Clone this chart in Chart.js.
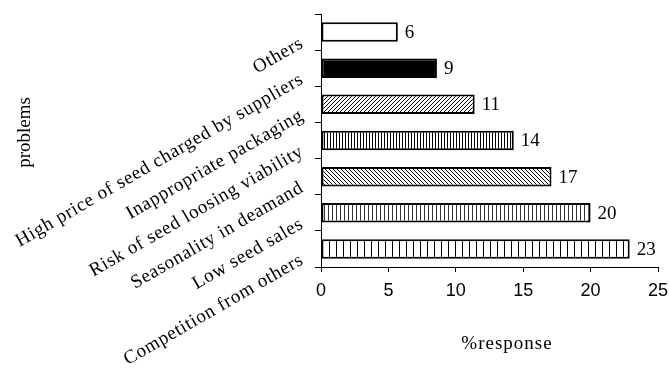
<!DOCTYPE html>
<html>
<head>
<meta charset="utf-8">
<script src="https://cdn.jsdelivr.net/npm/chart.js@4.4.1/dist/chart.umd.min.js"></script>
<style>
    html, body { margin: 0; padding: 0; background: #fff; }
    #wrap { width: 669px; height: 379px; }
</style>
</head>
<body>
<div id="wrap"><canvas id="problemsChart" width="669" height="379"></canvas></div>
<script>
const categories = [
    "Others",
    "High price of seed charged by suppliers",
    "Inappropriate packaging",
    "Risk of seed loosing viability",
    "Seasonality in deamand",
    "Low seed sales",
    "Competition from others"
];
const responses = [5.7, 8.6, 11.4, 14.3, 17.1, 20.0, 22.9];
const xTicks = [0, 5, 10, 15, 20, 25];
const xTitle = "%response";
const yTitle = "problems";

const canvas = document.getElementById("problemsChart");
const ctx = canvas.getContext("2d");

// small tiles for the hatched fills
function makePattern(w, h, draw) {
    const c = document.createElement("canvas");
    c.width = w;
    c.height = h;
    const g = c.getContext("2d");
    g.fillStyle = "#fff";
    g.fillRect(0, 0, w, h);
    g.fillStyle = "#000";
    draw(g);
    return ctx.createPattern(c, "repeat");
}

const upDiagonal = makePattern(4, 4, (g) => {
    for (let i = 0; i < 4; i++) g.fillRect(i, 3 - i, 1, 1);
});
const downDiagonal = makePattern(4, 4, (g) => {
    for (let i = 0; i < 4; i++) g.fillRect(i, i, 1, 1);
});
const vertDense = makePattern(3, 1, (g) => g.fillRect(0, 0, 1, 1));
const vertMedium = makePattern(4, 1, (g) => {
    g.fillStyle = "#333";
    g.fillRect(0, 0, 1, 1);
});
const vertWide = makePattern(7, 1, (g) => g.fillRect(0, 0, 1, 1));

const fills = ["#fff", "#000", upDiagonal, vertDense, downDiagonal, vertMedium, vertWide];

const textPlugin = {
    id: "textPlugin",
    afterDraw(chart) {
        const c = chart.ctx;
        const x = chart.scales.x;
        const y = chart.scales.y;
        c.save();
        c.fillStyle = "#000";

        // rotated category names
        c.font = "19px 'Liberation Serif'";
        c.letterSpacing = "0.7px";
        c.textAlign = "right";
        c.textBaseline = "middle";
        categories.forEach((label, i) => {
            c.save();
            c.translate(y.right - 19, y.getPixelForTick(i) + 10);
            c.rotate(-Math.PI / 6);
            c.fillText(label, 0, 0);
            c.restore();
        });

        // value labels at bar ends
        c.letterSpacing = "0px";
        c.textAlign = "left";
        responses.forEach((v, i) => {
            c.fillText(v.toFixed(0), x.getPixelForValue(v) + 7, y.getPixelForTick(i) + 1);
        });

        // axis titles
        c.textAlign = "center";
        c.letterSpacing = "1px";
        c.fillText(xTitle, 507, 344);
        c.letterSpacing = "0px";
        c.save();
        c.translate(25, (y.top + y.bottom) / 2 - 8);
        c.rotate(-Math.PI / 2);
        c.fillText(yTitle, 0, 0);
        c.restore();

        c.restore();
    }
};

new Chart(canvas, {
    type: "bar",
    data: {
        labels: categories,
        datasets: [
            {
                data: responses,
                backgroundColor: fills,
                borderColor: "#000",
                borderWidth: 2,
                borderSkipped: false,
                barPercentage: 0.54,
                categoryPercentage: 1
            }
        ]
    },
    options: {
        indexAxis: "y",
        responsive: false,
        animation: false,
        layout: { padding: { left: 0, top: 14, right: 0, bottom: 0 } },
        plugins: {
            legend: { display: false },
            tooltip: { enabled: false }
        },
        scales: {
            x: {
                min: 0,
                max: 25,
                afterBuildTicks: (s) => { s.ticks = xTicks.map((v) => ({ value: v })); },
                afterFit: (s) => {
                    s.height = 112;
                    s.paddingRight = 11;
                },
                grid: { drawOnChartArea: false, color: "#000", tickLength: 5 },
                border: { color: "#000", width: 1 },
                ticks: {
                    color: "#000",
                    padding: 8,
                    font: { family: "'Liberation Sans'", size: 18 }
                }
            },
            y: {
                afterFit: (s) => { s.width = 321; },
                grid: { drawOnChartArea: false, color: "#000", tickLength: 6, offset: true },
                border: { color: "#000", width: 1 },
                ticks: { display: false }
            }
        }
    },
    plugins: [textPlugin]
});
</script>
</body>
</html>
